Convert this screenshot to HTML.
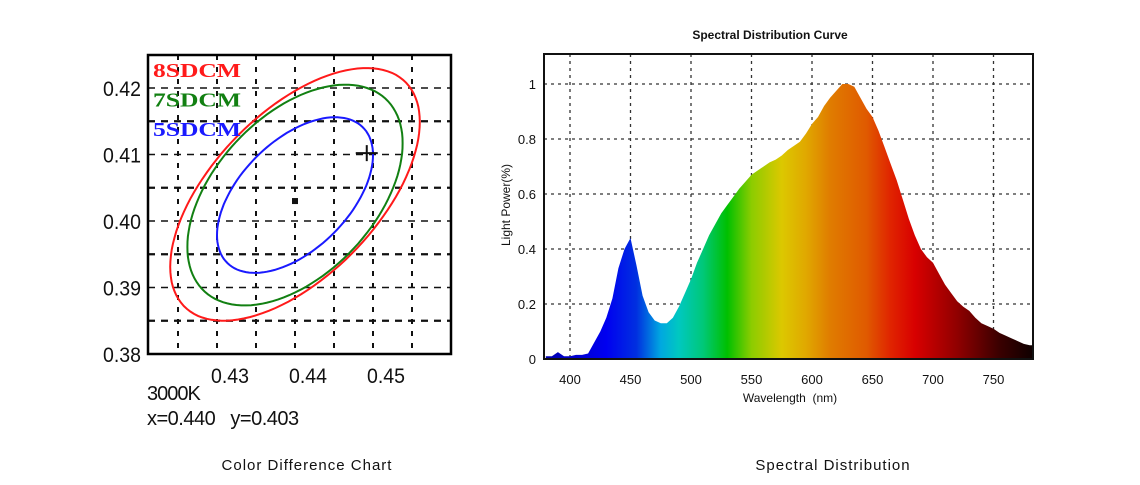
<!DOCTYPE html>
<html><head><meta charset="utf-8">
<style>
body{margin:0;background:#fff;width:1140px;height:485px;overflow:hidden}
svg{display:block}
</style></head>
<body>
<svg id="root" width="1140" height="485" viewBox="0 0 1140 485" xmlns="http://www.w3.org/2000/svg">
<defs>
<linearGradient id="spec" gradientUnits="userSpaceOnUse" x1="544" y1="0" x2="1033" y2="0">
</linearGradient>
<clipPath id="lclip"><rect x="148" y="55" width="303" height="299"/></clipPath>
</defs>
<g id="left"></g>
<g id="right"></g>
<text x="307" y="470" text-anchor="middle" font-family="Liberation Sans, sans-serif" font-size="15" letter-spacing="1" fill="#111">Color Difference Chart</text>
<text x="833" y="470" text-anchor="middle" font-family="Liberation Sans, sans-serif" font-size="15" letter-spacing="1" fill="#111">Spectral Distribution</text>
</svg>
<script>
// ---- Color difference chart data ----
const cdXTicks = [0.43, 0.44, 0.45];
const cdYTicks = [0.38, 0.39, 0.40, 0.41, 0.42];
const cdCenter = [0.440, 0.403];
const cdTarget = [0.4492, 0.4102];
const ellipseNames = ["8SDCM", "7SDCM", "5SDCM"];
const ellipseColors = ["#ff1a1a", "#128012", "#1a1aff"];
const ellipseDx = [0.0160, 0.0138, 0.0100];
const ellipseDy = [0.0190, 0.0166, 0.0117];
const ellipsePhaseDeg = [55, 62, 59];
const ellipseCy = [0.4040, 0.4039, 0.4039];

// ---- Spectral data ----
const wavelengths = [];
for (let w = 380; w <= 780; w += 5) wavelengths.push(w);
const power = [0.01,0.01,0.025,0.01,0.01,0.015,0.015,0.02,0.06,0.10,0.15,0.22,0.33,0.40,0.44,0.34,0.23,0.17,0.14,0.13,0.13,0.15,0.19,0.24,0.29,0.35,0.40,0.45,0.49,0.53,0.56,0.59,0.62,0.645,0.67,0.685,0.70,0.715,0.725,0.74,0.76,0.775,0.79,0.82,0.855,0.88,0.92,0.95,0.975,1.0,1.0,0.99,0.95,0.91,0.88,0.83,0.77,0.71,0.65,0.58,0.51,0.45,0.40,0.37,0.35,0.31,0.27,0.24,0.21,0.19,0.175,0.15,0.13,0.12,0.11,0.095,0.085,0.075,0.065,0.055,0.05];
const specXTicks = [400,450,500,550,600,650,700,750];
const specYTicks = [0,0.2,0.4,0.6,0.8,1];
const specYLabels = ["0","0.2","0.4","0.6","0.8","1"];
const gradStops = [[380,"#0000b0"],[430,"#0000f0"],[455,"#0030e0"],[475,"#00a8e0"],[490,"#00c8c0"],[510,"#00c878"],[530,"#00c000"],[550,"#8ccc00"],[575,"#dcc800"],[595,"#e0a800"],[615,"#e07c00"],[645,"#e05a00"],[665,"#e02400"],[685,"#d80000"],[720,"#900000"],[755,"#3a0000"],[782,"#100000"]];

const NS = "http://www.w3.org/2000/svg";
function mk(tag, attrs, parent){const e=document.createElementNS(NS,tag);for(const k in attrs)e.setAttribute(k,attrs[k]);parent.appendChild(e);return e;}

// ---- left chart ----
const L = document.getElementById('left');
const lx = v => 217 + (v - 0.43) * 7800;
const ly = v => 354 - (v - 0.38) * 6650;
for (let v = 0.425; v <= 0.4551; v += 0.005) {
  const g = mk('line',{x1:lx(v),x2:lx(v),y1:55,y2:354,stroke:'#111','stroke-width':2,'stroke-dasharray':'5,7'},L);
  
  
}
for (let v = 0.385; v <= 0.4201; v += 0.005) {
  const g = mk('line',{x1:148,x2:451,y1:ly(v),y2:ly(v),stroke:'#111','stroke-width':Math.abs((v*1000)%10-5)<1?2.2:1.5,'stroke-dasharray':'7,6'},L);
  
  
}
ellipseNames.forEach((n,i)=>{
  let d='';
  const ph = ellipsePhaseDeg[i]*Math.PI/180;
  for(let k=0;k<=120;k++){
    const t=k/120*2*Math.PI;
    const x=cdCenter[0]+ellipseDx[i]*Math.cos(t);
    const y=ellipseCy[i]+ellipseDy[i]*Math.cos(t-ph);
    d+=(k?'L':'M')+lx(x).toFixed(1)+','+ly(y).toFixed(1);
  }
  const p=mk('path',{d:d+'Z',fill:'none',stroke:ellipseColors[i],'stroke-width':2,'clip-path':'url(#lclip)'},L);
  
  
  const t=mk('text',{x:153,y:77+i*29.5,fill:ellipseColors[i],'font-family':'Liberation Serif, serif','font-size':20,'font-weight':'bold','textLength':88,'lengthAdjust':'spacingAndGlyphs'},L);
  t.textContent=n;
  
  
});
const cp=mk('rect',{x:lx(cdCenter[0])-3,y:ly(cdCenter[1])-3,width:6,height:6,fill:'#111'},L);


const tp=mk('path',{d:`M${lx(cdTarget[0])-11},${ly(cdTarget[1])}h22M${lx(cdTarget[0])},${ly(cdTarget[1])-8}v16`,stroke:'#111','stroke-width':2},L);


const lf=mk('path',{d:'M148,55V354H451V55Z',fill:'none',stroke:'#000','stroke-width':2.5},L);


cdYTicks.forEach(v=>{
  const t=mk('text',{x:141,y:ly(v)+8,'text-anchor':'end','font-family':'Liberation Sans, sans-serif','font-size':21,fill:'#111','textLength':38,'lengthAdjust':'spacingAndGlyphs'},L);
  t.textContent=v.toFixed(2);
  
  
});
cdXTicks.forEach(v=>{
  const t=mk('text',{x:lx(v)+13,y:383,'text-anchor':'middle','font-family':'Liberation Sans, sans-serif','font-size':21,fill:'#111','textLength':38,'lengthAdjust':'spacingAndGlyphs'},L);
  t.textContent=v.toFixed(2);
  
  
});
const cct=mk('text',{x:147,y:400,'font-family':'Liberation Sans, sans-serif','font-size':20,fill:'#111','letter-spacing':-1},L);
cct.textContent='3000K';


const xy=mk('text',{x:147,y:425,'font-family':'Liberation Sans, sans-serif','font-size':20,fill:'#111','letter-spacing':-0.5},L);
xy.textContent='x=0.440   y=0.403';
xy.style.whiteSpace='pre';



// ---- right chart ----
const R = document.getElementById('right');
const sx = w => 570 + (w - 400) * 1.21;
const sy = v => 359 - v * 275;
const grad=document.getElementById('spec');
gradStops.forEach(s=>{mk('stop',{offset:((sx(s[0])-544)/489).toFixed(4),'stop-color':s[1]},grad);});
let d='M'+sx(wavelengths[0])+','+sy(0);
wavelengths.forEach((w,i)=>{d+='L'+sx(w).toFixed(1)+','+sy(power[i]).toFixed(1);});
d+='L'+sx(782)+','+sy(power[power.length-1])+'L'+sx(782)+','+sy(0)+'Z';
specXTicks.forEach(w=>{
  const g=mk('line',{x1:sx(w),x2:sx(w),y1:54,y2:359,stroke:'#333','stroke-width':1.3,'stroke-dasharray':'3,4'},R);
  
  
  const t=mk('text',{x:sx(w),y:384,'text-anchor':'middle','font-family':'Liberation Sans, sans-serif','font-size':13,fill:'#111'},R);
  t.textContent=w;
  
  
});
specYTicks.forEach((v,i)=>{
  if(v>0){
  const g=mk('line',{x1:544,x2:1033,y1:sy(v),y2:sy(v),stroke:'#333','stroke-width':1.3,'stroke-dasharray':'3,4'},R);
  
  }
  const t=mk('text',{x:536,y:sy(v)+5,'text-anchor':'end','font-family':'Liberation Sans, sans-serif','font-size':13,fill:'#111'},R);
  t.textContent=specYLabels[i];
  
  
});
const area=mk('path',{d:d,fill:'url(#spec)'},R);


const rf=mk('rect',{x:544,y:54,width:489,height:305,fill:'none',stroke:'#111','stroke-width':2},R);


const tt=mk('text',{x:770,y:39,'text-anchor':'middle','font-family':'Liberation Sans, sans-serif','font-size':12,'font-weight':'bold',fill:'#111'},R);
tt.textContent='Spectral Distribution Curve';


const xt=mk('text',{x:790,y:402,'text-anchor':'middle','font-family':'Liberation Sans, sans-serif','font-size':12,fill:'#111'},R);
xt.textContent='Wavelength  (nm)';
xt.style.whiteSpace='pre';


const yt=mk('text',{x:0,y:0,transform:'translate(510,205) rotate(-90)','text-anchor':'middle','font-family':'Liberation Sans, sans-serif','font-size':12,fill:'#111'},R);
yt.textContent='Light Power(%)';


</script>
</body></html>
